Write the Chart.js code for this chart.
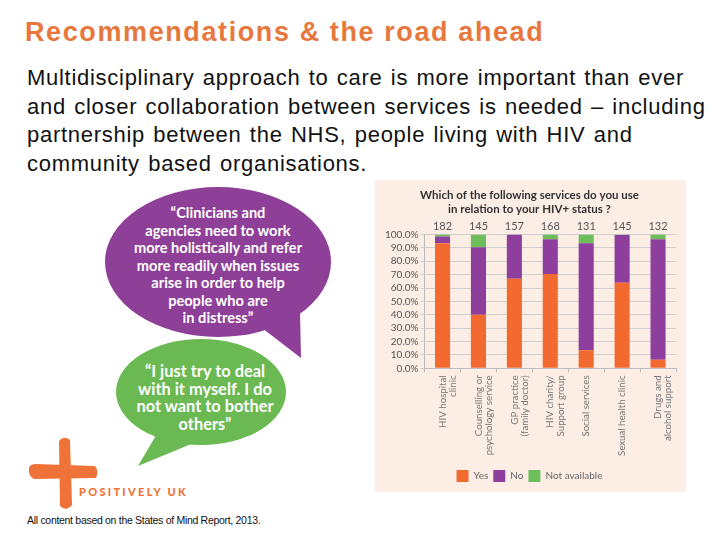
<!DOCTYPE html>
<html>
<head>
<meta charset="utf-8">
<script src="https://cdn.jsdelivr.net/npm/chart.js@4"></script>
<style>
  body { margin: 0; width: 720px; height: 540px; background: #fff; position: relative; overflow: hidden; font-family: "Liberation Sans", Arial, sans-serif; }
  .abs { position: absolute; }
  #title { left: 25px; top: 17px; font-size: 27px; font-weight: bold; color: #E8773D; letter-spacing: 1.6px; white-space: nowrap; }
  #body { left: 27px; top: 64px; font-size: 22px; line-height: 28.7px; color: #111; letter-spacing: 0.72px; word-spacing: 1.5px; white-space: nowrap; }
  .quote { color: #fff; font-family: Lato, "Open Sans", sans-serif; font-weight: bold; text-align: center; line-height: 17.5px; }
  #q1 { left: 112px; top: 204px; width: 212px; font-size: 14.6px; }
  #q2 { left: 105px; top: 362px; width: 200px; font-size: 16.4px; }
  #logoText { left: 79px; top: 485px; font-family: Lato, sans-serif; font-weight: 900; font-size: 11px; letter-spacing: 2.3px; color: #EF7338; }
  #foot { left: 27px; top: 514px; font-size: 10.5px; color: #111; letter-spacing: -0.3px; }
  #chartBox { left: 375px; top: 180px; width: 311px; height: 312px; background: #FCEEE4; }
</style>
</head>
<body>
<div id="title" class="abs">Recommendations &amp; the road ahead</div>
<div id="body" class="abs">Multidisciplinary approach to care is more important than ever<br>and closer collaboration between services is needed – including<br>partnership between the NHS, people living with HIV and<br>community based organisations.</div>

<svg class="abs" style="left:0;top:0" width="720" height="540">
  <!-- purple bubble -->
  <polygon points="262,328 300,312 301,358" fill="#8E3F98"/>
  <ellipse cx="218" cy="262" rx="113" ry="75" fill="#8E3F98"/>
  <!-- green bubble -->
  <polygon points="158,432 196,442 138,466" fill="#6AB952"/>
  <ellipse cx="201" cy="392" rx="85" ry="53" fill="#6AB952"/>
  <!-- logo cross -->
  <path d="M59,441 Q64,435 70,440 L72,505 Q66,512 60,506 Z" fill="#EF7338"/>
  <path d="M29,468 Q30,464 36,464 L95,466 Q99,471 96,478 L34,479 Q28,476 29,468 Z" fill="#EF7338"/>
</svg>

<div id="q1" class="abs quote">“Clinicians and<br>agencies need to work<br>more holistically and refer<br>more readily when issues<br>arise in order to help<br>people who are<br>in distress”</div>
<div id="q2" class="abs quote">“I just try to deal<br>with it myself. I do<br>not want to bother<br>others”</div>
<div id="logoText" class="abs">POSITIVELY UK</div>
<div id="foot" class="abs">All content based on the States of Mind Report, 2013.</div>

<div id="chartBox" class="abs"><canvas id="c"></canvas></div>

<script>
// services asked about in the survey
const services = [
  ['HIV hospital', 'clinic'],
  ['Counselling or', 'psychology service'],
  ['GP practice', '(family doctor)'],
  ['HIV charity/', 'Support group'],
  ['Social services'],
  ['Sexual health clinic'],
  ['Drugs and', 'alcohol support']
];
const respondents = [182, 145, 157, 168, 131, 145, 132];
const yesPct = [93.5, 40, 67, 70.5, 13.5, 64, 6.5];
const noPct = [5, 50.5, 33, 26, 80, 35.5, 90];
const notAvailablePct = [1.5, 9.5, 0, 3.5, 6.5, 0.5, 3.5];

// numero de respostas em cima de cada barra
const countLabels = {
  id: 'countLabels',
  afterDatasetsDraw(chart) {
    const ctx = chart.ctx;
    const xs = chart.scales.x;
    const top = chart.scales.y.top;
    ctx.save();
    ctx.font = '11px Lato, sans-serif';
    ctx.fillStyle = '#555';
    ctx.textAlign = 'center';
    ctx.textBaseline = 'bottom';
    respondents.forEach((n, i) => {
      ctx.fillText(String(n), xs.getPixelForValue(i), top - 2);
    });
    ctx.restore();
  }
};

new Chart(document.getElementById('c'), {
  type: 'bar',
  data: {
    labels: services,
    datasets: [
      { label: 'Yes', data: yesPct, backgroundColor: '#F26A30' },
      { label: 'No', data: noPct, backgroundColor: '#8E3F9E' },
      { label: 'Not available', data: notAvailablePct, backgroundColor: '#6DBD5B' }
    ]
  },
  options: {
    responsive: true,
    maintainAspectRatio: false,
    animation: false,
    layout: { padding: { left: 8, right: 10, top: 9, bottom: 0 } },
    datasets: { bar: { categoryPercentage: 1, barPercentage: 0.42 } },
    plugins: {
      title: {
        display: true,
        text: ['Which of the following services do you use', 'in relation to your HIV+ status ?'],
        color: '#333',
        font: { family: 'Lato, sans-serif', size: 11.5, weight: 'bold', lineHeight: 1.15 },
        padding: { top: 0, bottom: 19 }
      },
      legend: {
        position: 'bottom',
        labels: {
          boxWidth: 12, boxHeight: 12, padding: 5,
          color: '#666',
          font: { family: 'Lato, sans-serif', size: 10 }
        }
      },
      tooltip: { enabled: false }
    },
    scales: {
      x: {
        stacked: true,
        // espaco extra entre os rotulos e a legenda
        afterFit: scale => { scale.height += 6; },
        grid: { display: true, drawOnChartArea: false, drawTicks: true, tickLength: 4, color: '#bbb', offset: true },
        border: { color: '#bbb' },
        ticks: {
          color: '#777', maxRotation: 90, minRotation: 90, padding: 3,
          font: { family: 'Lato, sans-serif', size: 9.7, lineHeight: 1.05 }
        }
      },
      y: {
        stacked: true,
        min: 0, max: 100,
        grid: { color: '#cfcfcf', tickLength: 4 },
        border: { color: '#bbb' },
        ticks: {
          stepSize: 10, autoSkip: false, color: '#555', padding: 2,
          font: { family: 'Lato, sans-serif', size: 10 },
          callback: v => v.toFixed(1) + '%'
        }
      }
    }
  },
  plugins: [countLabels]
});
</script>
</body>
</html>
